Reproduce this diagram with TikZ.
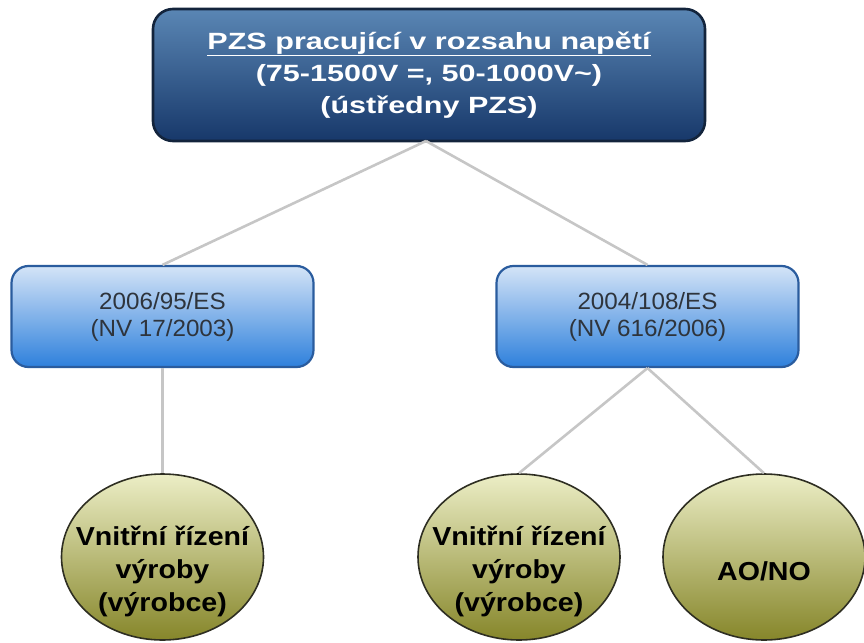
\documentclass[tikz,border=0pt]{standalone}
\usepackage{fontspec}
\usetikzlibrary{shapes.geometric}
\newfontfamily\topfont[FakeStretch=1.3]{Liberation Sans}
\newfontfamily\midfont[FakeStretch=1.03]{Liberation Sans}
\newfontfamily\ellfont[FakeStretch=1.1]{Liberation Sans}
\definecolor{topTop}{HTML}{5A86B4}
\definecolor{topBot}{HTML}{17386A}
\definecolor{topEdge}{HTML}{13243C}
\definecolor{midTop}{HTML}{D4E4F7}
\definecolor{midBot}{HTML}{2E80DC}
\definecolor{midEdge}{HTML}{2A5C9E}
\definecolor{midText}{HTML}{2E343C}
\definecolor{ellTop}{HTML}{ECEEC6}
\definecolor{ellBot}{HTML}{86862A}
\definecolor{ellEdge}{HTML}{2E2E22}
\definecolor{linkGrey}{HTML}{C6C6C6}
\tikzset{
  x=1pt, y=-1pt,
  topbox/.style={draw=topEdge, line width=2.6pt, rounded corners=20pt,
    top color=topTop, bottom color=topBot, minimum width=552pt, minimum height=132pt,
    inner sep=0pt, align=center, text=white,
    font=\topfont\bfseries\fontsize{23.5}{32}\selectfont},
  midbox/.style={draw=midEdge, line width=2.2pt, rounded corners=17pt,
    top color=midTop, bottom color=midBot, minimum width=302pt, minimum height=101pt,
    inner sep=0pt, align=center, text=midText,
    font=\midfont\fontsize{23.5}{27}\selectfont},
  ellnode/.style={ellipse, draw=ellEdge, line width=1.6pt,
    top color=ellTop, bottom color=ellBot, minimum width=202pt, minimum height=166pt,
    inner sep=0pt},
  elltext/.style={align=center, text=black, inner sep=0pt,
    font=\ellfont\bfseries\fontsize{26}{33}\selectfont},
  link/.style={draw=linkGrey, line width=2.6pt}
}
\begin{document}
\begin{tikzpicture}
\useasboundingbox (0,0) rectangle (864,642);
\coordinate (apex) at (426,141);
\node[midbox] (left) at (162.5,316.5) {2006/95/ES\\(NV 17/2003)};
\node[midbox] (right) at (647.5,316.5) {2004/108/ES\\(NV 616/2006)};
\node[ellnode] (e1) at (162.5,557) {};
\node[ellnode] (e2) at (519,557) {};
\node[ellnode] (e3) at (764,557) {};
\node[elltext] (t1) at (162.5,571) {Vnitřní řízení\\výroby\\(výrobce)};
\node[elltext] (t2) at (519,571) {Vnitřní řízení\\výroby\\(výrobce)};
\node[elltext] (t3) at (764,571) {AO/NO};
\path[link] (left.south) -- (e1.north);
\path[link] (right.south) -- (e2.north);
\path[link] (right.south) -- (e3.north);
\node[topbox] (top) at (429,75) {\underline{PZS pracující v rozsahu napětí}\\(75-1500V =, 50-1000V\textasciitilde)\\(ústředny PZS)};
\path[link] (apex) -- (left.north);
\path[link] (apex) -- (right.north);
\end{tikzpicture}
\end{document}
